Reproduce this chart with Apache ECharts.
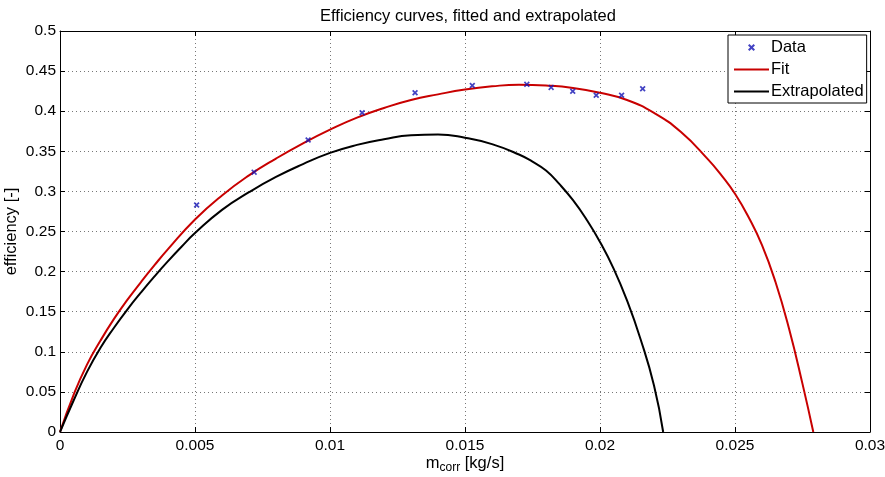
<!DOCTYPE html>
<html>
<head>
<meta charset="utf-8">
<script src="https://cdn.jsdelivr.net/npm/echarts@6/dist/echarts.min.js"></script>
<style>
    html, body { margin: 0; padding: 0; background: #fff; }
    #chart { width: 885px; height: 477px; }
</style>
</head>
<body>
<div id="chart"></div>
<script>
    // measured points
    var dataX = [0.00506, 0.00719, 0.00919, 0.01119, 0.01315, 0.01527, 0.01729, 0.01819, 0.01899, 0.01986, 0.0208, 0.02158];
    var dataY = [0.283, 0.324, 0.364, 0.398, 0.423, 0.432, 0.4335, 0.4297, 0.4248, 0.4198, 0.4198, 0.428];

    // fitted curve
    var fitX = [0, 0.0005, 0.001, 0.0015, 0.002, 0.0025, 0.003, 0.0035, 0.004, 0.005, 0.006, 0.007, 0.008, 0.009, 0.010, 0.011, 0.012, 0.013, 0.014, 0.015, 0.016, 0.017, 0.018, 0.019, 0.020, 0.021, 0.022, 0.023, 0.024, 0.0245, 0.025, 0.0255, 0.026, 0.0265, 0.027, 0.0275, 0.0279];
    var fitY = [0, 0.046, 0.084, 0.114, 0.141, 0.165, 0.187, 0.208, 0.228, 0.265, 0.295, 0.320, 0.341, 0.360, 0.377, 0.392, 0.404, 0.414, 0.421, 0.427, 0.431, 0.433, 0.432, 0.429, 0.423, 0.414, 0.398, 0.374, 0.340, 0.320, 0.297, 0.268, 0.233, 0.187, 0.129, 0.060, 0];

    // extrapolated curve
    var extX = [0, 0.0005, 0.001, 0.0015, 0.002, 0.0025, 0.003, 0.0035, 0.004, 0.0045, 0.005, 0.006, 0.007, 0.008, 0.009, 0.010, 0.011, 0.012, 0.013, 0.014, 0.015, 0.016, 0.017, 0.0175, 0.018, 0.0185, 0.019, 0.0195, 0.020, 0.0205, 0.021, 0.0215, 0.022, 0.02234];
    var extY = [0, 0.039, 0.075, 0.105, 0.130, 0.153, 0.174, 0.194, 0.213, 0.231, 0.248, 0.277, 0.299, 0.318, 0.334, 0.348, 0.358, 0.365, 0.370, 0.371, 0.367, 0.359, 0.346, 0.337, 0.326, 0.309, 0.289, 0.265, 0.237, 0.204, 0.164, 0.116, 0.058, 0];

    function pairs(xs, ys) {
        return xs.map(function (x, i) { return [x, ys[i]]; });
    }

    var font = 'Liberation Sans, Arial, sans-serif';
    var cross = 'path://M0,2L2,0L5,3L8,0L10,2L7,5L10,8L8,10L5,7L2,10L0,8L3,5Z';

    var gridLine = { show: true, lineStyle: { color: '#777', type: [1, 3], width: 1 } };
    var tick = { show: true, inside: true, length: 5, lineStyle: { color: '#000' } };
    var line = { show: true, onZero: false, lineStyle: { color: '#000', width: 1 } };

    var chart = echarts.init(document.getElementById('chart'));
    chart.setOption({
        backgroundColor: '#fff',
        animation: false,
        title: {
            text: 'Efficiency curves, fitted and extrapolated',
            left: 463, top: 3, textAlign: 'center',
            textStyle: { fontFamily: font, fontSize: 16.5, fontWeight: 'normal', color: '#000' }
        },
        legend: {
            orient: 'vertical',
            left: 728, top: 35,
            padding: [4, 3, 3, 5],
            itemWidth: 35, itemHeight: 7, itemGap: 5,
            backgroundColor: '#fff',
            borderColor: '#000', borderWidth: 1, borderRadius: 0,
            textStyle: { fontFamily: font, fontSize: 16.5, color: '#000', padding: [0, 0, 0, -3] },
            data: [
                { name: 'Data' },
                { name: 'Fit', itemStyle: { opacity: 0 } },
                { name: 'Extrapolated', itemStyle: { opacity: 0 } }
            ]
        },
        grid: { left: 60, right: 15, top: 31, bottom: 45, show: false, containLabel: false, outerBoundsMode: 'none' },
        xAxis: [{
            type: 'value', min: 0, max: 0.03, interval: 0.005,
            name: '{m|m}{s|corr}{m| [kg/s]}',
            nameLocation: 'middle', nameGap: 21, nameMoveOverlap: false,
            nameTextStyle: {
                rich: {
                    m: { fontFamily: font, fontSize: 16.5, color: '#000' },
                    s: { fontFamily: font, fontSize: 12, color: '#000', verticalAlign: 'bottom', padding: [9, 0, 0, 0] }
                }
            },
            axisLine: line, axisTick: tick, splitLine: gridLine,
            axisLabel: { fontFamily: font, fontSize: 15.5, color: '#000', margin: 6 }
        }, {
            type: 'value', position: 'top', min: 0, max: 0.03, interval: 0.005,
            axisLine: line, axisTick: tick, splitLine: { show: false }, axisLabel: { show: false }
        }],
        yAxis: [{
            type: 'value', min: 0, max: 0.5, interval: 0.05,
            name: 'efficiency [-]', nameLocation: 'middle', nameGap: 40, nameMoveOverlap: false,
            nameTextStyle: { fontFamily: font, fontSize: 16.5, color: '#000' },
            axisLine: line, axisTick: tick, splitLine: gridLine,
            axisLabel: { fontFamily: font, fontSize: 15.5, color: '#000', margin: 4 }
        }, {
            type: 'value', position: 'right', min: 0, max: 0.5, interval: 0.05,
            axisLine: line, axisTick: tick, splitLine: { show: false }, axisLabel: { show: false }
        }],
        series: [{
            name: 'Data', type: 'scatter',
            symbol: cross, symbolSize: 6,
            itemStyle: { color: '#1414b4' },
            data: pairs(dataX, dataY), z: 5
        }, {
            name: 'Fit', type: 'line', smooth: 0.5, symbol: 'none',
            lineStyle: { color: '#c80000', width: 2 }, itemStyle: { color: '#c80000' },
            data: pairs(fitX, fitY), z: 3
        }, {
            name: 'Extrapolated', type: 'line', smooth: 0.5, symbol: 'none',
            lineStyle: { color: '#000', width: 2 }, itemStyle: { color: '#000' },
            data: pairs(extX, extY), z: 3
        }]
    });
</script>
</body>
</html>
